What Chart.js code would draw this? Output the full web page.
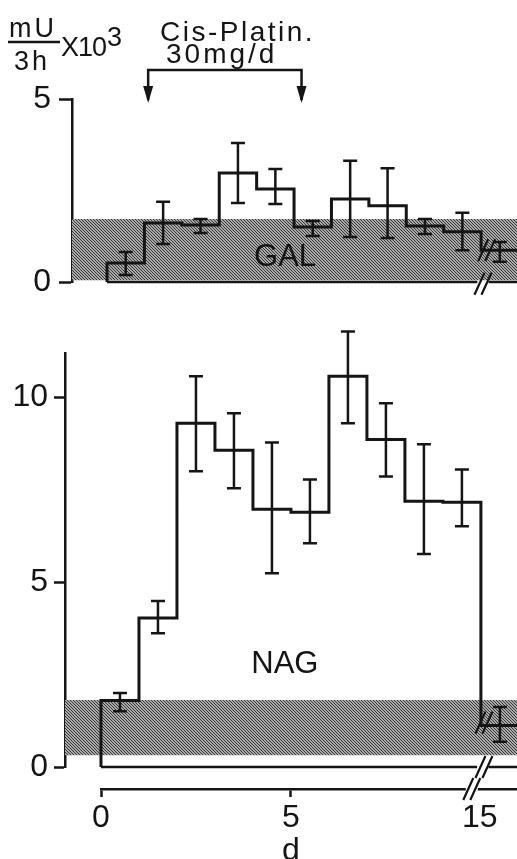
<!DOCTYPE html>
<html>
<head>
<meta charset="utf-8">
<script src="https://cdn.jsdelivr.net/npm/chart.js@4.4.1/dist/chart.umd.min.js"></script>
<style>
  body { margin: 0; background: #fff; }
  canvas { position: absolute; left: 0; top: 0; }
</style>
</head>
<body>
<canvas id="gal" width="517" height="859"></canvas>
<canvas id="nag" width="517" height="859"></canvas>
<canvas id="days" width="517" height="859"></canvas>
<script>
// urinary enzymes, mU/3h x 10^3, one bin per day, last entry is day 15
const days = [0, 1, 2, 3, 4, 5, 6, 7, 8, 9, 15];
const galMean = [0.52, 1.61, 1.56, 2.98, 2.54, 1.50, 2.27, 2.08, 1.53, 1.37, 0.87];
const galLow  = [0.19, 1.04, 1.34, 2.16, 2.13, 1.26, 1.23, 1.20, 1.31, 0.87, 0.55];
const galHigh = [0.82, 2.19, 1.72, 3.80, 3.09, 1.67, 3.31, 3.11, 1.72, 1.89, 1.09];
const nagMean = [1.80, 4.03, 9.30, 8.57, 6.97, 6.89, 10.57, 8.86, 7.19, 7.16, 1.12];
const nagLow  = [1.51, 3.62, 8.00, 7.54, 5.24, 6.05, 9.30, 7.86, 5.76, 6.51, 0.68];
const nagHigh = [2.00, 4.49, 10.57, 9.57, 8.78, 7.78, 11.78, 9.84, 8.73, 8.05, 1.62];
// normal range (hatched band)
const galNormal = [0.05, 1.72];
const nagNormal = [0.32, 1.81];
// Cis-Platin 30 mg/d, first and last dose
const dosing = [1.1, 5.2];
const dayLabels = ['0', '5', '15'];

// axis is broken after day 10, day 15 sits just behind the break
const BREAK = 10;
const pos = d => (d > BREAK ? BREAK + 0.5 : d);
const mid = i => (days[i] > BREAK ? pos(days[i]) : days[i] + 0.5);

const INK = '#151515';
const SANS = '"Liberation Sans", Arial, sans-serif';

const hatch = (() => {
  const tile = document.createElement('canvas');
  tile.width = tile.height = 3;
  const g = tile.getContext('2d');
  g.fillStyle = '#dcdcdc';
  g.fillRect(0, 0, 3, 3);
  g.strokeStyle = '#2e2e2e';
  g.lineWidth = 1.1;
  g.beginPath();
  g.moveTo(-1, -1); g.lineTo(4, 4);
  g.moveTo(-1, 2); g.lineTo(1, 4);
  g.moveTo(2, -1); g.lineTo(4, 1);
  g.stroke();
  return g.createPattern(tile, 'repeat');
})();

function outline(mean) {
  const pts = [{x: 0, y: 0}];
  days.forEach((d, i) => pts.push({x: d > BREAK ? BREAK : d, y: mean[i]}));
  pts.push({x: 12, y: mean[mean.length - 1]});
  return pts;
}

function panelData(mean, normal) {
  return {
    datasets: [
      {data: outline(mean), stepped: 'before', borderColor: INK, borderWidth: 3, pointRadius: 0, clip: false},
      {data: [{x: 0, y: 0}, {x: 9.9, y: 0}, {x: 10, y: null}, {x: 10.2, y: 0}, {x: 12, y: 0}],
       borderColor: INK, borderWidth: 2.5, pointRadius: 0, clip: false},
      {data: [{x: -2, y: normal[1]}, {x: 12, y: normal[1]}], borderWidth: 0, pointRadius: 0,
       fill: '+1', backgroundColor: hatch},
      {data: [{x: -2, y: normal[0]}, {x: 12, y: normal[0]}], borderWidth: 0, pointRadius: 0}
    ]
  };
}

const errorBars = {
  id: 'errorBars',
  afterDatasetsDraw(chart, args, opts) {
    const {ctx, scales: {x, y}} = chart;
    ctx.save();
    ctx.strokeStyle = INK;
    ctx.lineWidth = 2.5;
    opts.low.forEach((lo, i) => {
      const px = x.getPixelForValue(mid(i));
      const y0 = y.getPixelForValue(lo);
      const y1 = y.getPixelForValue(opts.high[i]);
      ctx.beginPath();
      ctx.moveTo(px, y0); ctx.lineTo(px, y1);
      ctx.moveTo(px - 7, y0); ctx.lineTo(px + 7, y0);
      ctx.moveTo(px - 7, y1); ctx.lineTo(px + 7, y1);
      ctx.stroke();
    });
    ctx.restore();
  }
};

const breaks = {
  id: 'breaks',
  afterDraw(chart, args, opts) {
    const {ctx, scales: {x, y}} = chart;
    ctx.save();
    (opts.at || []).forEach(b => {
      const cx = x.getPixelForValue(b.x);
      const cy = y.getPixelForValue(b.y);
      if (b.gap) {
        ctx.fillStyle = '#fff';
        ctx.fillRect(cx - 6, cy - 3, 12, 6);
      }
      ctx.strokeStyle = INK;
      ctx.lineWidth = 2.2;
      ctx.beginPath();
      [-3.5, 3.5].forEach(dx => {
        ctx.moveTo(cx + dx - 5, cy + 11);
        ctx.lineTo(cx + dx + 5, cy - 11);
      });
      ctx.stroke();
    });
    ctx.restore();
  }
};

const panelLabel = {
  id: 'panelLabel',
  afterDatasetsDraw(chart, args, opts) {
    const {ctx, scales: {x, y}} = chart;
    ctx.save();
    ctx.fillStyle = INK;
    ctx.font = '31px ' + SANS;
    ctx.textAlign = 'center';
    ctx.textBaseline = 'middle';
    ctx.fillText(opts.text, x.getPixelForValue(opts.x), y.getPixelForValue(opts.y));
    ctx.restore();
  }
};

const header = {
  id: 'header',
  afterDraw(chart) {
    const {ctx, scales: {x}} = chart;
    ctx.save();
    ctx.fillStyle = INK;
    ctx.strokeStyle = INK;
    ctx.textBaseline = 'alphabetic';
    ctx.letterSpacing = '3px';
    ctx.font = '27px ' + SANS;
    ctx.fillText('mU', 9, 37);
    ctx.fillText('3h', 14, 70);
    ctx.lineWidth = 2.5;
    ctx.beginPath();
    ctx.moveTo(8, 42); ctx.lineTo(60, 42);
    ctx.stroke();
    ctx.letterSpacing = '-1px';
    ctx.font = '27px ' + SANS;
    ctx.fillText('X10', 61, 56);
    ctx.fillText('3', 61 + ctx.measureText('X10').width + 1, 46);
    ctx.letterSpacing = '2.5px';
    ctx.font = '28px ' + SANS;
    ctx.fillText('Cis-Platin.', 160, 41);
    ctx.letterSpacing = '3px';
    ctx.fillText('30mg/d', 166, 63);
    ctx.letterSpacing = '0px';
    // bracket with arrows over the dosing period
    const a = x.getPixelForValue(dosing[0]);
    const b = x.getPixelForValue(dosing[1]);
    ctx.lineWidth = 2.5;
    ctx.beginPath();
    ctx.moveTo(a, 100); ctx.lineTo(a, 70); ctx.lineTo(b, 70); ctx.lineTo(b, 100);
    ctx.stroke();
    [a, b].forEach(px => {
      ctx.beginPath();
      ctx.moveTo(px - 5, 86); ctx.lineTo(px + 5, 86); ctx.lineTo(px, 103);
      ctx.closePath();
      ctx.fill();
    });
    ctx.restore();
  }
};

function yAxis(max, width, ticks, tickLength, padding) {
  return {
    min: 0,
    max,
    afterFit: s => { s.width = width; },
    afterBuildTicks: s => { s.ticks = ticks.map(v => ({value: v})); },
    border: {color: INK, width: 2.5},
    grid: {drawOnChartArea: false, color: INK, tickLength, tickWidth: 2.5},
    ticks: {color: INK, padding, font: {family: SANS, size: 32}}
  };
}

const common = {
  responsive: false,
  animation: false,
  devicePixelRatio: 1,
  plugins: {legend: {display: false}, tooltip: {enabled: false}}
};

new Chart(document.getElementById('gal'), {
  type: 'line',
  data: panelData(galMean, galNormal),
  options: {
    ...common,
    layout: {padding: {top: 99, bottom: 577, left: 0, right: 0}},
    scales: {
      x: {type: 'linear', display: false, min: -0.936, max: 10.96},
      y: yAxis(5, 72, [0, 5], 13, 8)
    },
    plugins: {
      ...common.plugins,
      errorBars: {low: galLow, high: galHigh},
      breaks: {at: [{x: 10.15, y: 0.87}, {x: 10.05, y: -0.05}]},
      panelLabel: {text: 'GAL', x: 4.76, y: 0.66}
    }
  },
  plugins: [errorBars, breaks, panelLabel, header]
});

new Chart(document.getElementById('nag'), {
  type: 'line',
  data: panelData(nagMean, nagNormal),
  options: {
    ...common,
    layout: {padding: {top: 353, bottom: 92, left: 0, right: 0}},
    scales: {
      x: {type: 'linear', display: false, min: -0.947, max: 10.95},
      y: yAxis(11.2, 65, [0, 5, 10], 11, 6)
    },
    plugins: {
      ...common.plugins,
      errorBars: {low: nagLow, high: nagHigh},
      breaks: {at: [{x: 10.08, y: 1.2}, {x: 10.08, y: 0}]},
      panelLabel: {text: 'NAG', x: 4.84, y: 2.78}
    }
  },
  plugins: [errorBars, breaks, panelLabel]
});

new Chart(document.getElementById('days'), {
  type: 'line',
  data: {datasets: []},
  options: {
    ...common,
    layout: {padding: {top: 770, bottom: 0, left: 101, right: 0}},
    scales: {
      x: {
        type: 'linear', min: 0, max: 10.95,
        afterFit: s => { s.height = 70; },
        afterBuildTicks: s => { s.ticks = dayLabels.map(d => ({value: pos(+d) - (+d > BREAK ? 0.53 : 0)})); },
        border: {color: INK, width: 2.5},
        grid: {drawOnChartArea: false, tickLength: 8, tickWidth: 2.5,
               color: c => (c.tick && c.tick.value > BREAK - 1 ? 'rgba(0,0,0,0)' : INK)},
        ticks: {
          color: INK, padding: 4, maxRotation: 0,
          font: {family: SANS, size: 32, lineHeight: 1.05},
          callback: (v, i) => (i === 1 ? [dayLabels[i], 'd'] : dayLabels[i])
        }
      },
      y: {display: false, min: 0, max: 1}
    },
    plugins: {
      ...common.plugins,
      breaks: {at: [{x: 9.76, y: 0, gap: true}]}
    }
  },
  plugins: [breaks]
});
</script>
</body>
</html>
